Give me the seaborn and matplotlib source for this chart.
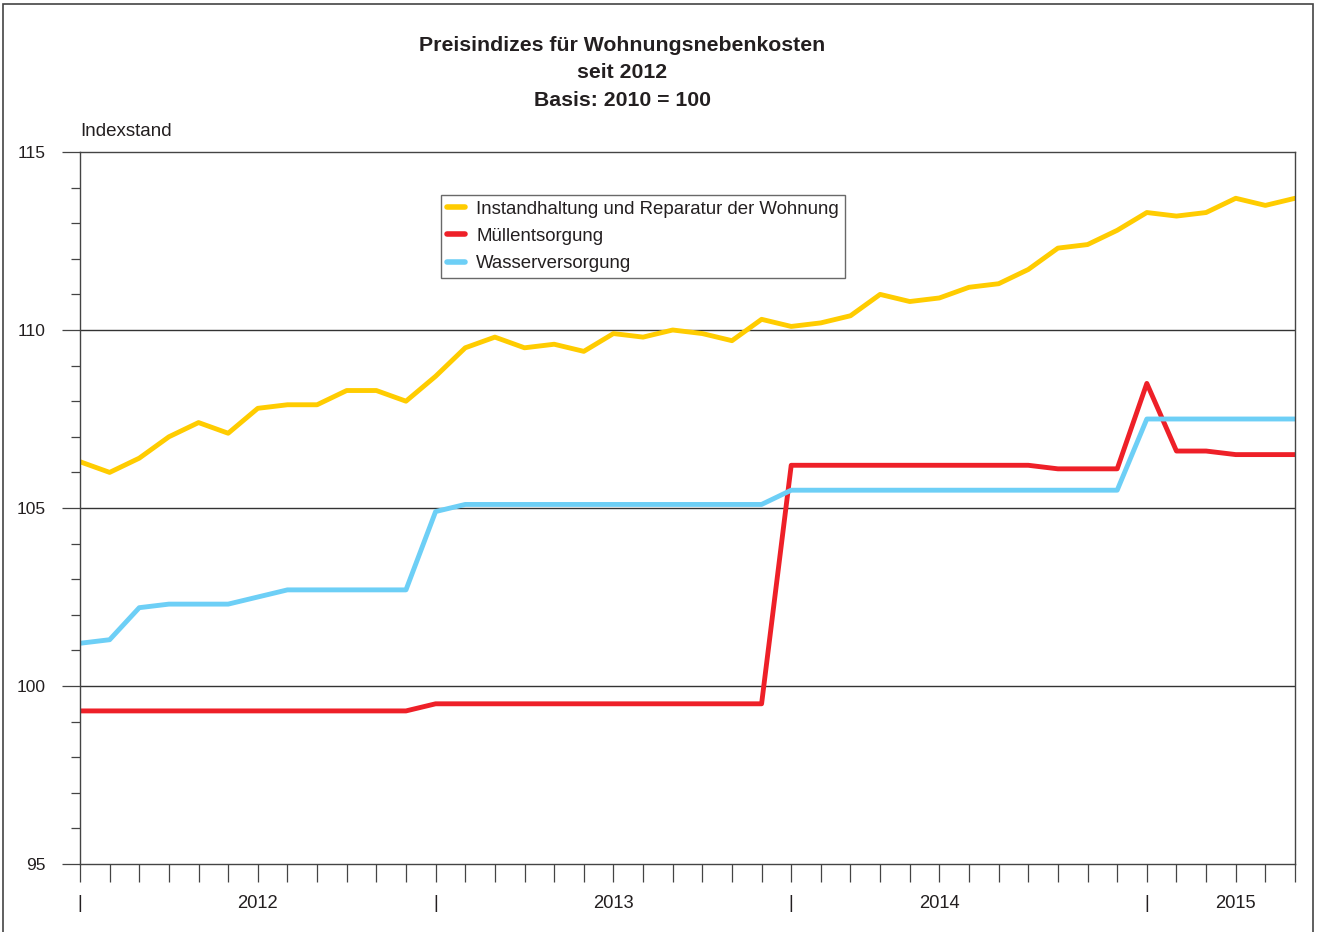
import numpy as np
import pandas as pd
import matplotlib
matplotlib.use("Agg")
import matplotlib.pyplot as plt
import seaborn as sns
from matplotlib.patches import Rectangle
from matplotlib.ticker import MultipleLocator
from matplotlib.transforms import blended_transform_factory

# -----------------------------
# DATA (Jan 2012 - Jun 2015, monthly)
# -----------------------------
months = pd.date_range("2012-01-01", "2015-06-01", freq="MS")

instandhaltung = [106.3, 106.0, 106.4, 107.0, 107.4, 107.1, 107.8, 107.9, 107.9, 108.3, 108.3, 108.0,
                  108.7, 109.5, 109.8, 109.5, 109.6, 109.4, 109.9, 109.8, 110.0, 109.9, 109.7, 110.3,
                  110.1, 110.2, 110.4, 111.0, 110.8, 110.9, 111.2, 111.3, 111.7, 112.3, 112.4, 112.8,
                  113.3, 113.2, 113.3, 113.7, 113.5, 113.7]
muell = [99.3] * 12 + [99.5] * 12 + [106.2] * 9 + [106.1] * 3 + \
        [108.5, 106.6, 106.6, 106.5, 106.5, 106.5]
wasser = [101.2, 101.3, 102.2, 102.3, 102.3, 102.3, 102.5, 102.7, 102.7, 102.7, 102.7, 102.7,
          104.9] + [105.1] * 11 + [105.5] * 12 + [107.5] * 6

series_names = ["Instandhaltung und Reparatur der Wohnung", "Müllentsorgung", "Wasserversorgung"]
colors = ["#FFCC00", "#EE2028", "#6DCFF6"]

year_labels = ["2012", "2013", "2014", "2015"]
year_label_pos = [6, 18, 29, 39]
year_starts = [0, 12, 24, 36]

# -----------------------------
# LONG FORMAT
# -----------------------------
x_idx = np.arange(len(months))
df = pd.concat([
    pd.DataFrame({"x": x_idx, "wert": vals, "reihe": name})
    for name, vals in zip(series_names, [instandhaltung, muell, wasser])
])

# -----------------------------
# PLOT
# -----------------------------
sns.set_style("white")
plt.rcParams["font.family"] = ["Liberation Sans", "DejaVu Sans"]
plt.rcParams["text.color"] = "#231F20"

fig = plt.figure(figsize=(13.19, 9.32), dpi=100)
ax = fig.add_axes([80 / 1319, 1 - 864 / 932, (1295 - 80) / 1319, (864 - 152) / 932])

sns.lineplot(data=df, x="x", y="wert", hue="reihe", hue_order=series_names,
             palette=colors, linewidth=3.5, ax=ax, legend=True)

ax.set_xlim(0, len(months) - 1)
ax.set_ylim(95, 115)

for y in [100, 105, 110]:
    ax.axhline(y, color="#333333", linewidth=1.0, zorder=0)

for sp in ax.spines.values():
    sp.set_color("#444444")
    sp.set_linewidth(1.0)
    sp.set_visible(True)

ax.yaxis.set_major_locator(MultipleLocator(5))
ax.yaxis.set_minor_locator(MultipleLocator(1))
ax.tick_params(axis="y", which="major", direction="out", length=13, width=0.9,
               color="#444444", labelsize=12.5, pad=12, labelcolor="#231F20", left=True)
ax.tick_params(axis="y", which="minor", direction="out", length=6.5, width=0.9,
               color="#444444", left=True)

ax.set_xticks(x_idx)
ax.set_xticklabels([])
ax.tick_params(axis="x", which="major", direction="out", length=13, width=0.9,
               color="#444444", bottom=True)

ax.set_xlabel("")
ax.set_ylabel("")

trans = blended_transform_factory(ax.transData, fig.transFigure)
for pos in year_starts:
    ax.text(pos, 1 - 903 / 932, "|", transform=trans, ha="center", va="center",
            fontsize=13.5, color="#231F20")
for pos, lab in zip(year_label_pos, year_labels):
    ax.text(pos, 1 - 903 / 932, lab, transform=trans, ha="center", va="center",
            fontsize=13.2, color="#231F20")

fig.text(80 / 1319, 1 - 132 / 932, "Indexstand", ha="left", va="center", fontsize=13.5)
fig.text(622 / 1319, 1 - 73 / 932, "Preisindizes für Wohnungsnebenkosten\nseit 2012\nBasis: 2010 = 100",
         ha="center", va="center", fontsize=15.3, fontweight="bold", linespacing=1.55)

leg = ax.legend(loc="upper left", bbox_to_anchor=(441 / 1319, 1 - 195 / 932),
                bbox_transform=fig.transFigure, borderaxespad=0, frameon=True,
                fancybox=False, fontsize=13.4, handlelength=1.0, handletextpad=0.6,
                labelspacing=0.55, borderpad=0.3, title=None)
leg.get_frame().set_edgecolor("#444444")
leg.get_frame().set_linewidth(1.0)
for h in leg.get_lines():
    h.set_linewidth(4.0)

# outer frame around the whole figure
fig.patches.append(Rectangle((3 / 1319, -0.01), (1313 - 3) / 1319, 1 - 4 / 932 + 0.01,
                             transform=fig.transFigure, fill=False,
                             edgecolor="#444444", linewidth=1.2))

fig.savefig("out.png", dpi=100)
